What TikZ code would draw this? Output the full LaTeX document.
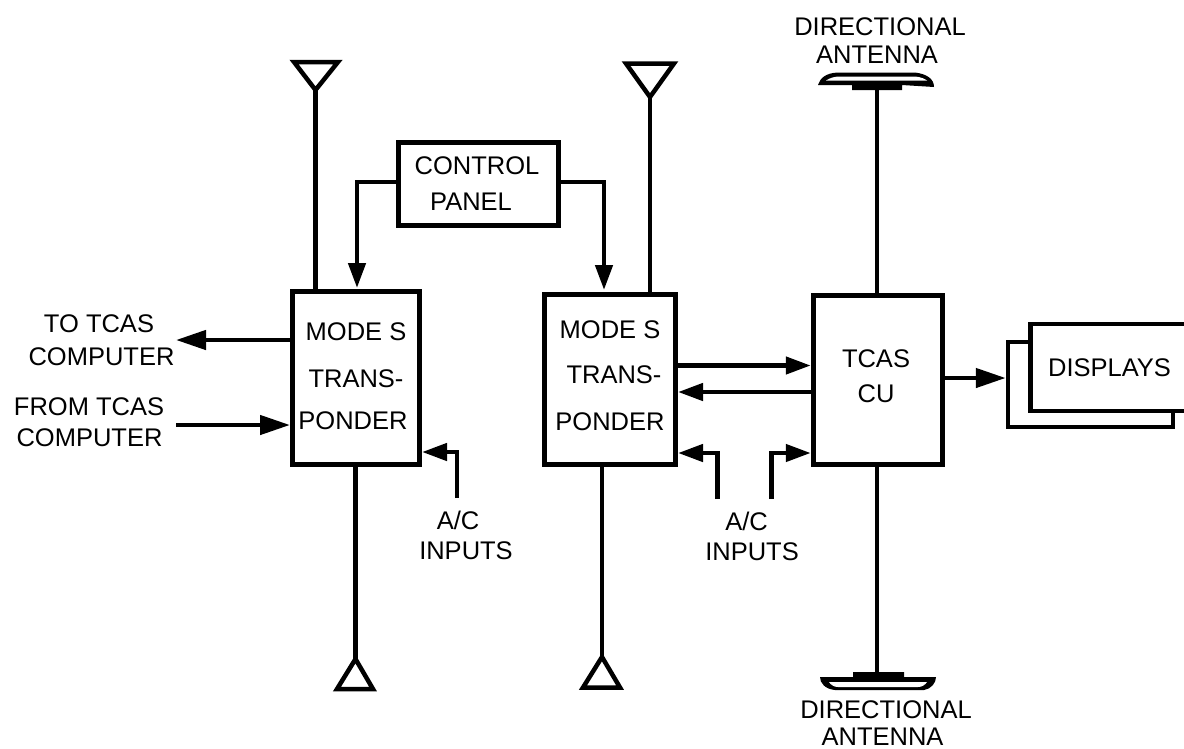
\documentclass[tikz,border=0pt]{standalone}
\usepackage{fontspec}
\setmainfont{Liberation Sans}
\usetikzlibrary{arrows.meta,calc}
\tikzset{
  x=1pt,y=-1pt,
  wire/.style={line width=4.5pt,draw=black},
  arr/.style={wire,-{Triangle[length=25pt,width=17pt]}},
  bigarr/.style={wire,-{Triangle[length=30pt,width=19pt]}},
  blk/.style={draw=black,line width=5pt,rectangle,inner sep=0pt,fill=white},
  lbl/.style={inner sep=0pt,text height=18pt,text depth=0pt,font=\fontsize{25.5}{30}\selectfont},
  ant/.style={draw=black,line width=4.5pt,fill=white,line join=miter},
  pt/.style={inner sep=0pt,minimum size=0pt,outer sep=0pt},
}
\begin{document}
\begin{tikzpicture}
\useasboundingbox (0,0) rectangle (1184,748);
% blocks
\node[blk,minimum width=127pt,minimum height=173pt] (m1) at (356,377.5) {};
\node[blk,minimum width=131pt,minimum height=170pt] (m2) at (610,379) {};
\node[blk,minimum width=129.5pt,minimum height=169.5pt] (cu) at (878,380) {};
\node[blk,minimum width=159.5pt,minimum height=83pt] (cp) at (478.5,184) {};
% block texts
\node[lbl] (m1a) at (356,331) {MODE S};
\node[lbl] (m1b) at (356,378) {TRANS-};
\node[lbl] (m1c) at (353,420) {PONDER};
\node[lbl] (m2a) at (610,329) {MODE S};
\node[lbl] (m2b) at (614,374) {TRANS-};
\node[lbl] (m2c) at (610,421) {PONDER};
\node[lbl] (cua) at (876,358) {TCAS};
\node[lbl] (cub) at (876,393) {CU};
\node[lbl] (cpa) at (477,165) {CONTROL};
\node[lbl] (cpb) at (471,201) {PANEL};
% displays
\node[draw=black,line width=4.5pt,fill=white,minimum width=165pt,minimum height=85pt,inner sep=0pt] (db) at (1090.5,384.5) {};
\node[draw=black,line width=4.5pt,fill=white,minimum width=170pt,minimum height=87pt,inner sep=0pt,anchor=west] (df) at (1028,367.5) {};
\node[lbl] (dt) at (1109.5,367) {DISPLAYS};
% antennas
\node[pt] (a1) at (315.5,90) {};
\node[pt] (a2) at (650,97) {};
\node[pt] (a3) at (355.5,659) {};
\node[pt] (a4) at (602,657) {};
\node[pt] (a5) at (877,88) {};
\node[pt] (a6) at (877,673) {};
\draw[ant] (294,62) -- (338,62) -- (a1.center) -- cycle;
\draw[ant] (626,63.5) -- (674,63.5) -- (a2.center) -- cycle;
\draw[ant] (337,689) -- (373,689) -- (a3.center) -- cycle;
\draw[ant] (583,687.5) -- (620,687.5) -- (a4.center) -- cycle;
\draw[wire] (a1.center) -- (m1.north -| a1.center);
\draw[wire] (a2.center) -- (m2.north -| a2.center);
\draw[wire] (a3.center) -- (m1.south -| a3.center);
\draw[wire] (a4.center) -- (m2.south -| a4.center);
\draw[wire] (a5.center) -- (cu.north -| a5.center);
\draw[wire] (a6.center) -- (cu.south -| a6.center);
% dishes
\fill[black] (818,85) .. controls (820,78) and (826,73) .. (838,72.5) -- (915,72.5) .. controls (927,74) and (934,79) .. (934,87) -- (902,85) -- (902,90) -- (852,90) -- (852,85) -- cycle;
\fill[white] (826,80.5) .. controls (830,78) and (834,76.5) .. (840,76.5) -- (915,76.5) .. controls (921,77) and (925,79) .. (927,80.5) -- cycle;
\fill[black] (853,672) -- (904,672) -- (904,677) -- (936,677) .. controls (936,683) and (931,689) .. (924,690) -- (835,690) .. controls (825,689) and (820,683) .. (820,677) -- (853,677) -- cycle;
\fill[white] (829,682) -- (927,682) .. controls (925,685) and (922,687) .. (918,687) -- (838,687) .. controls (834,687) and (831,685) .. (829,682) -- cycle;
% control panel links
\node[pt] (p1) at (357,288) {};
\node[pt] (p2) at (604,290) {};
\draw[arr,line join=miter] (cp.west |- 0,182) -| (p1.center);
\draw[arr,line join=miter] (cp.east |- 0,182) -| (p2.center);
% left side
\node[lbl] (to1) at (99,323) {TO TCAS};
\node[lbl] (to2) at (101.5,356.5) {COMPUTER};
\node[lbl] (fr1) at (89,406.5) {FROM TCAS};
\node[lbl] (fr2) at (89.5,437) {COMPUTER};
\node[pt] (tot) at (176,340) {};
\node[pt] (frt) at (176,425) {};
\draw[bigarr] (m1.west |- tot.center) -- (tot.center);
\draw[bigarr] (frt.center) -- (m1.west |- frt.center);
% A/C inputs
\node[lbl] (ac1) at (458,520) {A/C};
\node[lbl] (in1) at (466,550) {INPUTS};
\node[lbl] (ac2) at (746.5,521) {A/C};
\node[lbl] (in2) at (752,551.5) {INPUTS};
\node[pt] (s1) at (457,498) {};
\node[pt] (s2) at (717.5,499) {};
\node[pt] (s3) at (771.5,499) {};
\draw[arr,line join=miter] (s1.center) |- (m1.east |- 0,452);
\draw[arr,line join=miter] (s2.center) |- (m2.east |- 0,453);
\draw[arr,line join=miter] (s3.center) |- (cu.west |- 0,453);
% bus
\draw[arr] (m2.east |- 0,365.5) -- (cu.west |- 0,365.5);
\draw[arr] (cu.west |- 0,392) -- (m2.east |- 0,392);
\draw[bigarr] (cu.east |- 0,378) -- (db.west |- 0,378);
% antenna labels
\node[lbl] (d1a) at (880,26) {DIRECTIONAL};
\node[lbl] (d1b) at (877,54) {ANTENNA};
\node[lbl] (d2a) at (886,709) {DIRECTIONAL};
\node[lbl] (d2b) at (882.5,736.5) {ANTENNA};
\end{tikzpicture}
\end{document}
